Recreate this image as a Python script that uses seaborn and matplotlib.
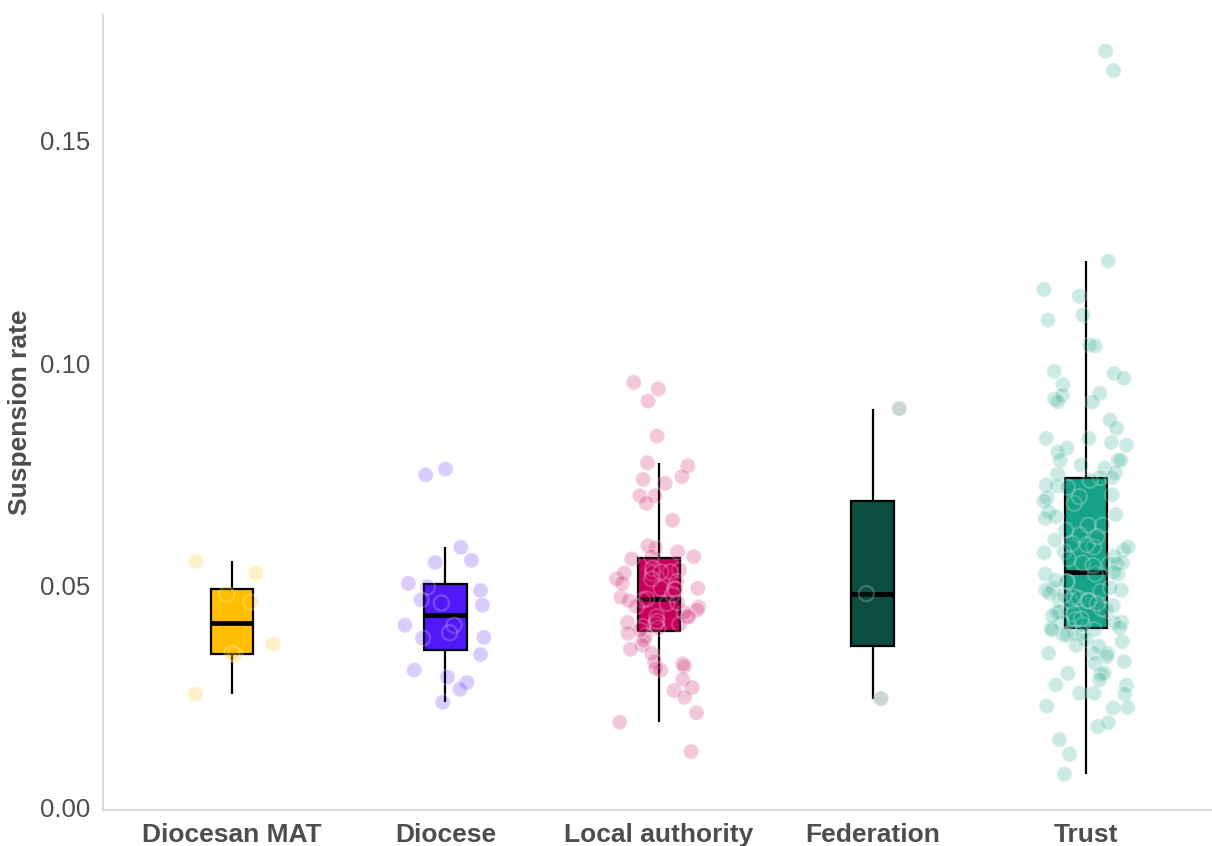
import numpy as np
import pandas as pd
import seaborn as sns
import matplotlib.pyplot as plt

# ---------------- data ----------------
categories = ["Diocesan MAT", "Diocese", "Local authority", "Federation", "Trust"]
colors = ["#FFBF00", "#5219F8", "#C6005A", "#0C4E42", "#15A286"]

diocesan_mat = [0.0555, 0.0528, 0.0481, 0.0463, 0.0369, 0.0344, 0.0348, 0.0256]

diocese = [0.0749, 0.0762, 0.0586, 0.0557, 0.0552, 0.0505, 0.0497, 0.0489,
           0.0468, 0.0461, 0.0456, 0.0411, 0.0411, 0.0384, 0.0382, 0.0394,
           0.0345, 0.0310, 0.0294, 0.0282, 0.0267, 0.0238]

local_authority = [0.0957, 0.0942, 0.0915, 0.0836, 0.0776, 0.0769, 0.0745, 0.0739,
                   0.0730, 0.0702, 0.0702, 0.0685, 0.0647, 0.0590, 0.0585, 0.0576,
                   0.0565, 0.0565, 0.0560, 0.0535, 0.0528, 0.0539, 0.0531, 0.0531,
                   0.0515, 0.0515, 0.0528, 0.0509, 0.0494, 0.0492, 0.0494, 0.0492,
                   0.0474, 0.0468, 0.0460, 0.0453, 0.0452, 0.0445, 0.0430, 0.0430,
                   0.0430, 0.0417, 0.0408, 0.0413, 0.0413, 0.0404, 0.0393, 0.0387,
                   0.0378, 0.0366, 0.0357, 0.0348, 0.0329, 0.0324, 0.0319, 0.0310,
                   0.0314, 0.0289, 0.0271, 0.0264, 0.0249, 0.0214, 0.0193, 0.0127,
                   0.0400, 0.0420, 0.0440, 0.0462, 0.0466, 0.0480, 0.0505, 0.0470]

federation = [0.0898, 0.0482, 0.0246]

trust = [0.1702, 0.1658, 0.1230, 0.1166, 0.1151, 0.1108, 0.1097, 0.1041, 0.1039,
         0.0977, 0.0966, 0.0982, 0.0952, 0.0932, 0.0919, 0.0928, 0.0913, 0.0913,
         0.0872, 0.0854, 0.0831, 0.0831, 0.0822, 0.0816, 0.0809, 0.0800, 0.0782,
         0.0782, 0.0782, 0.0771, 0.0764, 0.0754, 0.0751, 0.0743, 0.0743, 0.0737,
         0.0724, 0.0726, 0.0721, 0.0704, 0.0698, 0.0690, 0.0685, 0.0666, 0.0655,
         0.0651, 0.0636, 0.0636, 0.0614, 0.0602, 0.0595, 0.0587, 0.0580, 0.0587,
         0.0576, 0.0574, 0.0566, 0.0551, 0.0551, 0.0549, 0.0549, 0.0526, 0.0526,
         0.0526, 0.0509, 0.0509, 0.0494, 0.0490, 0.0490, 0.0487, 0.0483, 0.0475,
         0.0471, 0.0468, 0.0466, 0.0466, 0.0465, 0.0445, 0.0441, 0.0441, 0.0437,
         0.0424, 0.0417, 0.0418, 0.0417, 0.0400, 0.0393, 0.0389, 0.0393, 0.0389,
         0.0378, 0.0374, 0.0366, 0.0364, 0.0348, 0.0348, 0.0348, 0.0340, 0.0329,
         0.0325, 0.0303, 0.0301, 0.0303, 0.0288, 0.0277, 0.0276, 0.0256, 0.0258,
         0.0258, 0.0229, 0.0226, 0.0225, 0.0183, 0.0192, 0.0154, 0.0121, 0.0076,
         0.0401, 0.0403, 0.0405, 0.0412, 0.0425, 0.0432, 0.0448, 0.0455, 0.0460,
         0.0478, 0.0495, 0.0512, 0.0530, 0.0545, 0.0560, 0.0592, 0.0610, 0.0625,
         0.0660, 0.0700]

y_ticks = [0.00, 0.05, 0.10, 0.15]
y_tick_labels = ["0.00", "0.05", "0.10", "0.15"]
y_label = "Suspension rate"

# ---------------- build frame ----------------
series = [diocesan_mat, diocese, local_authority, federation, trust]
df = pd.DataFrame({
    "type": [c for c, vals in zip(categories, series) for _ in vals],
    "rate": [v for vals in series for v in vals],
})

sns.set_theme(style="white")
plt.rcParams['font.family'] = ['Liberation Sans', 'DejaVu Sans']

W, H = 1212, 846
fig = plt.figure(figsize=(W / 100, H / 100), dpi=100)
ax = fig.add_axes([103 / W, 36 / H, 1 - 103 / W, (810 - 15) / H])

sns.boxplot(data=df, x="type", y="rate", hue="type", order=categories,
            hue_order=categories, palette=colors, saturation=1, width=0.2,
            showfliers=False, showcaps=False, linecolor="black", linewidth=1.6,
            medianprops=dict(linewidth=3.4), legend=False, ax=ax)

n_before = len(ax.collections)
np.random.seed(7)
sns.stripplot(data=df, x="type", y="rate", hue="type", order=categories,
              hue_order=categories, palette=colors, jitter=0.2, size=11,
              alpha=0.22, edgecolor="white", linewidth=1.6, legend=False, ax=ax)
for coll in ax.collections[n_before:]:
    coll.set_zorder(5)

ax.set_xlim(-0.604, 4.59)
ax.set_ylim(-0.00045, 0.1783)
ax.set_yticks(y_ticks)
ax.set_yticklabels(y_tick_labels)
ax.set_xlabel("")
ax.set_ylabel(y_label, fontsize=19, fontweight="bold", color="#4D4D4D")
ax.yaxis.set_label_coords(-0.064, 0.5)

for s in ["top", "right"]:
    ax.spines[s].set_visible(False)
for s in ["left", "bottom"]:
    ax.spines[s].set_color("#DADADA")
    ax.spines[s].set_linewidth(1.5)

ax.tick_params(axis="both", which="both", color="#DADADA", length=5, width=1.2,
               labelcolor="#4D4D4D")
ax.tick_params(axis="y", labelsize=18.5, pad=4)
ax.tick_params(axis="x", labelsize=19, pad=4)
for lab in ax.get_xticklabels():
    lab.set_fontweight("bold")
ax.grid(False)

fig.savefig("out.png", dpi=100)
